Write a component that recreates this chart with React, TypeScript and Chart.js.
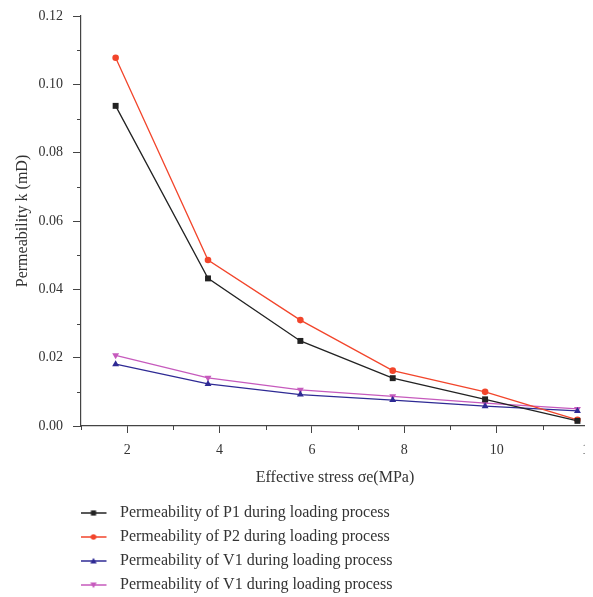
import React, { useEffect, useRef } from "react";
import { Chart, registerables } from "chart.js";

Chart.register(...registerables);

// ---- data ----
const stress = [1.75, 3.75, 5.75, 7.75, 9.75, 11.75];
const permP1 = [0.0937, 0.0432, 0.0249, 0.014, 0.0078, 0.0015];
const permP2 = [0.1078, 0.0486, 0.031, 0.0162, 0.01, 0.0018];
const permV1 = [0.0181, 0.0123, 0.0092, 0.0076, 0.0058, 0.0044];
const permV1b = [0.0207, 0.0141, 0.0106, 0.0087, 0.0067, 0.005];

const seriesLabels = [
  "Permeability of P1 during loading process",
  "Permeability of P2 during loading process",
  "Permeability of V1 during loading process",
  "Permeability of V1 during loading process",
];

const xMajorTicks = [2, 4, 6, 8, 10, 12];
const xMinorTicks = [1, 3, 5, 7, 9, 11];
const yMajorTicks = [0, 0.02, 0.04, 0.06, 0.08, 0.1, 0.12];
const yMinorTicks = [0.01, 0.03, 0.05, 0.07, 0.09, 0.11];

const xTitle = "Effective stress σe(MPa)";
const yTitle = "Permeability k (mD)";

// ---- styles ----
const FONT = "'Liberation Serif', 'Times New Roman', serif";
const AXIS = "#444444";
const TEXT = "#333333";
const colors = ["#222222", "#f2452b", "#2e2a94", "#c65abd"];
const pointStyles = ["rect", "circle", "triangle", "triangle"];
const rotations = [0, 0, 0, 180];
const radii = [4.2, 3.3, 4, 4];

function makeLegendIcon(color: string, style: string, rot: number): HTMLCanvasElement {
  const c = document.createElement("canvas");
  c.width = 42;
  c.height = 12;
  const g = c.getContext("2d")!;
  g.strokeStyle = color;
  g.fillStyle = color;
  g.lineWidth = 1.5;
  g.beginPath();
  g.moveTo(1, 6);
  g.lineTo(27, 6);
  g.stroke();
  const cx = 14;
  const cy = 6;
  g.beginPath();
  if (style === "rect") {
    g.rect(cx - 2.6, cy - 2.6, 5.2, 5.2);
  } else if (style === "circle") {
    g.arc(cx, cy, 2.8, 0, Math.PI * 2);
  } else {
    const s = rot === 180 ? -1 : 1;
    g.moveTo(cx, cy - 3.2 * s);
    g.lineTo(cx - 3.2, cy + 2.4 * s);
    g.lineTo(cx + 3.2, cy + 2.4 * s);
    g.closePath();
  }
  g.fill();
  return c;
}

const minorTicksPlugin = {
  id: "minorTicks",
  afterDraw(chart: any) {
    const { ctx, scales } = chart;
    const x = scales.x;
    const y = scales.y;
    ctx.save();
    ctx.strokeStyle = AXIS;
    ctx.lineWidth = 1;
    ctx.beginPath();
    for (const v of yMinorTicks) {
      const py = Math.round(y.getPixelForValue(v)) + 0.5;
      ctx.moveTo(x.left - 4, py);
      ctx.lineTo(x.left, py);
    }
    for (const v of xMinorTicks) {
      const px = Math.round(x.getPixelForValue(v)) + 0.5;
      ctx.moveTo(px, y.bottom);
      ctx.lineTo(px, y.bottom + 4);
    }
    ctx.stroke();
    ctx.restore();
  },
};

export default function App() {
  const ref = useRef<HTMLCanvasElement | null>(null);

  useEffect(() => {
    document.documentElement.style.overflow = "hidden";
    document.body.style.overflow = "hidden";
    if (!ref.current) return;
    const series = [permP1, permP2, permV1, permV1b];
    const icons = colors.map((c, i) => makeLegendIcon(c, pointStyles[i], rotations[i]));
    const chart = new Chart(ref.current, {
      type: "line",
      data: {
        datasets: series.map((vals, i) => ({
          label: seriesLabels[i],
          data: stress.map((s, j) => ({ x: s, y: vals[j] })),
          borderColor: colors[i],
          backgroundColor: colors[i],
          borderWidth: 1.3,
          pointStyle: pointStyles[i] as any,
          rotation: rotations[i],
          pointRadius: radii[i],
          pointBorderWidth: 0,
          pointBackgroundColor: colors[i],
          tension: 0,
          fill: false,
        })),
      },
      options: {
        responsive: false,
        animation: false,
        layout: { padding: { top: 8, right: 19, left: 0, bottom: 0 } },
        scales: {
          x: {
            type: "linear",
            min: 1,
            max: 12,
            afterBuildTicks: (s: any) => {
              s.ticks = xMajorTicks.map((v) => ({ value: v }));
            },
            afterFit: (s: any) => {
              s.height = 71;
              s.paddingLeft = 0;
              s.paddingRight = 0;
            },
            grid: {
              display: true,
              drawOnChartArea: false,
              drawTicks: true,
              tickLength: 7,
              color: AXIS,
              tickWidth: 1,
            },
            border: { display: true, color: AXIS, width: 1.2 },
            ticks: {
              font: { family: FONT, size: 14 },
              color: TEXT,
              padding: 9,
              maxRotation: 0,
              autoSkip: false,
              callback: (v: any) => String(v),
            },
            title: {
              display: true,
              text: xTitle,
              font: { family: FONT, size: 16 },
              color: TEXT,
              padding: { top: 4, bottom: 10 },
            },
          },
          y: {
            type: "linear",
            min: 0,
            max: 0.12,
            afterBuildTicks: (s: any) => {
              s.ticks = yMajorTicks.map((v) => ({ value: v }));
            },
            afterFit: (s: any) => {
              s.width = 73;
              s.paddingTop = 0;
              s.paddingBottom = 0;
            },
            grid: {
              display: true,
              drawOnChartArea: false,
              drawTicks: true,
              tickLength: 8,
              color: AXIS,
              tickWidth: 1,
            },
            border: { display: true, color: AXIS, width: 1.2 },
            ticks: {
              font: { family: FONT, size: 14 },
              color: TEXT,
              padding: 10,
              autoSkip: false,
              callback: (v: any) => Number(v).toFixed(2),
            },
            title: {
              display: true,
              text: yTitle,
              font: { family: FONT, size: 16 },
              color: TEXT,
              padding: { top: 5, bottom: 0 },
            },
          },
        },
        plugins: {
          tooltip: { enabled: false },
          legend: {
            display: true,
            position: "bottom",
            align: "start",
            fullSize: false,
            labels: {
              usePointStyle: true,
              pointStyleWidth: 23,
              padding: 8,
              color: TEXT,
              font: { family: FONT, size: 16 },
              generateLabels: (ch: any) =>
                ch.data.datasets.map((ds: any, i: number) => ({
                  text: ds.label,
                  pointStyle: icons[i],
                  fillStyle: colors[i],
                  strokeStyle: colors[i],
                  lineWidth: 0,
                  hidden: false,
                  datasetIndex: i,
                  fontColor: TEXT,
                })),
            },
          },
        },
      },
      plugins: [minorTicksPlugin],
    } as any);
    return () => chart.destroy();
  }, []);

  return (
    <div style={{ position: "relative", width: 585, height: 589, overflow: "hidden" }}>
      <canvas ref={ref} width={600} height={595} style={{ display: "block" }} />
    </div>
  );
}
